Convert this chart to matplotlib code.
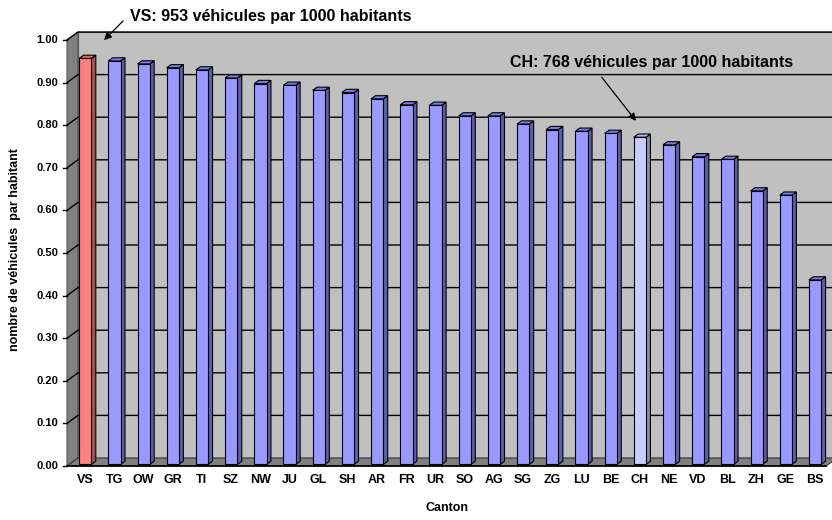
import matplotlib
import matplotlib.pyplot as plt
from matplotlib.patches import FancyArrowPatch, Polygon
from matplotlib.transforms import IdentityTransform, offset_copy

matplotlib.use("Agg")
plt.rcParams["font.family"] = ["Liberation Sans", "DejaVu Sans"]

# Données : véhicules par habitant, par canton
cantons = ["VS", "TG", "OW", "GR", "TI", "SZ", "NW", "JU", "GL", "SH", "AR", "FR", "UR",
           "SO", "AG", "SG", "ZG", "LU", "BE", "CH", "NE", "VD", "BL", "ZH", "GE", "BS"]
vehicules = [0.953, 0.947, 0.940, 0.931, 0.926, 0.907, 0.894, 0.890, 0.878, 0.873, 0.858,
             0.844, 0.843, 0.818, 0.818, 0.799, 0.786, 0.782, 0.777, 0.768, 0.750, 0.722,
             0.716, 0.642, 0.632, 0.433]
yticks = [0.0, 0.1, 0.2, 0.3, 0.4, 0.5, 0.6, 0.7, 0.8, 0.9, 1.0]

# couleurs (face avant, dessus, côté)
col_normal = ("#9999ff", "#7b7be6", "#5c5cb0")
col_vs = ("#ff8080", "#e06666", "#a84f4f")
col_ch = ("#ccccff", "#b3b3e6", "#8a8ab0")

fig = plt.figure(figsize=(8.32, 5.2), dpi=100)
ax = fig.add_axes([67 / 832, 54 / 520, 759 / 832, 426 / 520])
ax.set_xlim(-0.55, 25.45)
ax.set_ylim(0, 1)
ax.axis("off")

DX, DY = 11, 8  # profondeur 3D en pixels
PIX = IdentityTransform()


def pt(x, y, depth):
    tr = offset_copy(ax.transData, fig=fig, x=DX * depth, y=DY * depth, units="dots")
    return tr.transform((x, y))


def poly(points, fc, ec="black", lw=0.8, z=1):
    p = Polygon([pt(*q) for q in points], closed=True, fc=fc, ec=ec, lw=lw,
                transform=PIX, zorder=z)
    fig.add_artist(p)


x0, x1 = ax.get_xlim()

# murs et sol
poly([(x0, 0, 1), (x1, 0, 1), (x1, 1, 1), (x0, 1, 1)], "#c0c0c0", ec="#555555", z=1)
poly([(x0, 0, 0), (x0, 1, 0), (x0, 1, 1), (x0, 0, 1)], "#808080", ec="#555555", z=1)
poly([(x0, 0, 0), (x1, 0, 0), (x1, 0, 1), (x0, 0, 1)], "#808080", ec="#333333", z=1)

# quadrillage + graduations
for v in yticks:
    if v > 0:
        a, b, c = pt(x0, v, 0), pt(x0, v, 1), pt(x1, v, 1)
        fig.add_artist(plt.Line2D([a[0], b[0], c[0]], [a[1], b[1], c[1]], color="black",
                                  lw=1.0, transform=PIX, zorder=2))
    a = pt(x0, v, 0)
    fig.add_artist(plt.Line2D([a[0] - 4, a[0]], [a[1], a[1]], color="black", lw=1.0,
                              transform=PIX, zorder=2))
    fig.text(a[0] - 9, a[1], f"{v:.2f}", ha="right", va="center", fontsize=8,
             fontweight="bold", transform=PIX)

# axe avant
a, b = pt(x0, 0, 0), pt(x1, 0, 0)
fig.add_artist(plt.Line2D([a[0], b[0]], [a[1], b[1]], color="black", lw=1.2,
                          transform=PIX, zorder=2))

# barres 3D
w = 0.42
f0, f1 = 0.2, 0.6
for i, (cant, v) in enumerate(zip(cantons, vehicules)):
    front, top, side = col_vs if cant == "VS" else col_ch if cant == "CH" else col_normal
    l, r = i - w / 2, i + w / 2
    poly([(r, 0, f0), (r, v, f0), (r, v, f1), (r, 0, f1)], side, z=3)
    poly([(l, v, f0), (r, v, f0), (r, v, f1), (l, v, f1)], top, z=3)
    poly([(l, 0, f0), (r, 0, f0), (r, v, f0), (l, v, f0)], front, z=4)
    p = pt(i, 0, 0)
    fig.text(p[0] + 2, 40, cant, ha="center", va="center", fontsize=9,
             fontweight="bold", transform=PIX)

# titres des axes
fig.text(447 / 832, 12 / 520, "Canton", ha="center", va="center", fontsize=9,
         fontweight="bold")
fig.text(15 / 832, 270 / 520, "nombre de véhicules  par habitant", ha="center",
         va="center", rotation=90, fontsize=9, fontweight="bold")

# annotations
fig.text(130, 504, "VS: 953 véhicules par 1000 habitants", ha="left", va="center",
         fontsize=11.5, fontweight="bold", transform=PIX)
fig.text(510, 458, "CH: 768 véhicules par 1000 habitants", ha="left", va="center",
         fontsize=11.5, fontweight="bold", transform=PIX)

vs_tip = pt(0.65, 0.995, 0)
ch = cantons.index("CH")
ch_tip = pt(ch, vehicules[ch] + 0.037, 0)
for tail, tip in [((125, 501), vs_tip), ((600, 445), ch_tip)]:
    fig.add_artist(FancyArrowPatch(tail, tip, arrowstyle="-|>", color="black", lw=0.9,
                                   mutation_scale=11, transform=PIX, zorder=10))

fig.savefig("out.png", dpi=100)
